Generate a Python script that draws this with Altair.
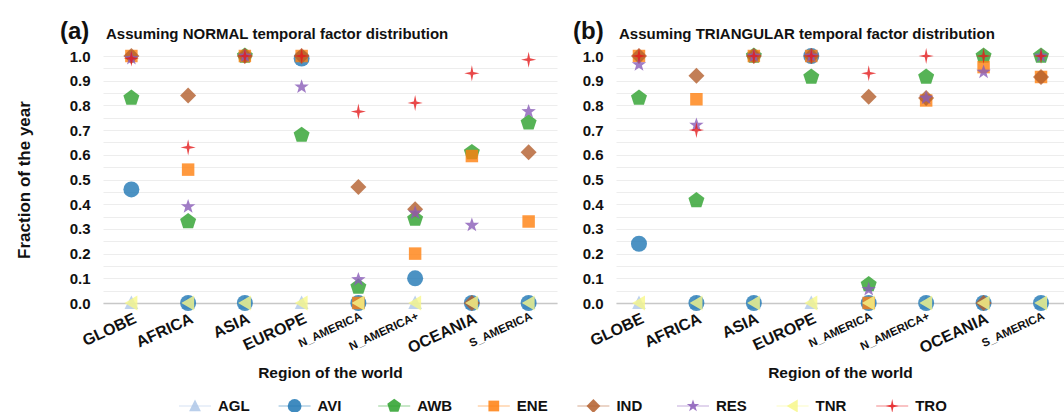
import altair as alt
import pandas as pd

regions = ["GLOBE", "AFRICA", "ASIA", "EUROPE", "N_AMERICA", "N_AMERICA+", "OCEANIA", "S_AMERICA"]
series = ["AGL", "AVI", "AWB", "ENE", "IND", "RES", "TNR", "TRO"]

# (a) NORMAL temporal factor distribution
normal_AGL = [0, 0, 0, 0, 0, 0, 0, 0]
normal_AVI = [0.46, 0, 0, 0.99, 0, 0.10, 0, 0]
normal_AWB = [0.83, 0.33, 1.0, 0.68, 0.065, 0.34, 0.61, 0.73]
normal_ENE = [1.0, 0.54, 1.0, 1.0, 0, 0.20, 0.595, 0.33]
normal_IND = [1.0, 0.84, 1.0, 1.0, 0.47, 0.38, 0, 0.61]
normal_RES = [0.99, 0.39, 1.0, 0.875, 0.095, 0.365, 0.315, 0.775]
normal_TNR = [0, 0, 0, 0, 0, 0, 0, 0]
normal_TRO = [0.99, 0.63, 1.0, 1.0, 0.775, 0.81, 0.93, 0.985]

# (b) TRIANGULAR temporal factor distribution
tri_AGL = [0, 0, 0, 0, 0, 0, 0, 0]
tri_AVI = [0.24, 0, 0, 1.0, 0, 0, 0, 0]
tri_AWB = [0.83, 0.415, 1.0, 0.915, 0.075, 0.915, 1.0, 1.0]
tri_ENE = [1.0, 0.825, 1.0, 1.0, 0, 0.82, 0.955, 0.915]
tri_IND = [1.0, 0.92, 1.0, 1.0, 0.835, 0.83, 0, 0.915]
tri_RES = [0.965, 0.72, 1.0, 1.0, 0.055, 0.83, 0.935, 1.0]
tri_TNR = [0, 0, 0, 0, 0, 0, 0, 0]
tri_TRO = [1.0, 0.70, 1.0, 1.0, 0.93, 1.0, 1.0, 1.0]

normal = [normal_AGL, normal_AVI, normal_AWB, normal_ENE, normal_IND, normal_RES, normal_TNR, normal_TRO]
tri = [tri_AGL, tri_AVI, tri_AWB, tri_ENE, tri_IND, tri_RES, tri_TNR, tri_TRO]

colors = ["#aec7e8", "#1f77b4", "#2ca02c", "#ff7f0e", "#b35e2c", "#8a5cb8", "#f7f78a", "#e41a1c"]
shapes = [
    "M0,-0.95L0.85,0.75L-0.85,0.75Z",                      # triangle up
    "circle",
    "M0,-1.05L1,-0.32L0.62,0.85L-0.62,0.85L-1,-0.32Z",     # pentagon
    "M-0.78,-0.78L0.78,-0.78L0.78,0.78L-0.78,0.78Z",       # square
    "diamond",
    "M0,-0.95L0.223,-0.307L0.904,-0.294L0.361,0.117L0.558,0.769L0,0.38L-0.558,0.769L-0.361,0.117L-0.904,-0.294L-0.223,-0.307Z",
    "M-0.85,0L0.75,-0.95L0.75,0.95Z",                      # triangle left
    "M0,-1L0.17,-0.17L0.95,0L0.17,0.17L0,1L-0.17,0.17L-0.95,0L-0.17,-0.17Z",  # 4-point star
]

FONT = "Liberation Sans"
TXT = "#111111"


def frame(values):
    rows = []
    for s, vals in zip(series, values):
        for r, v in zip(regions, vals):
            rows.append({"series": s, "region": r, "value": v})
    return pd.DataFrame(rows)


color_enc = alt.Color("series:N", scale=alt.Scale(domain=series, range=colors), legend=None)
shape_enc = alt.Shape("series:N", scale=alt.Scale(domain=series, range=shapes), legend=None)

grid_vals = [round(i * 0.05, 2) for i in range(21)]


def panel(values, letter, title, ytitle, width, pad):
    df = frame(values)
    yaxis_kw = dict(
        values=grid_vals,
        labelExpr="round(datum.value*20)%2==0 ? format(datum.value,'.1f') : ''",
        grid=True, gridColor="#ededed", gridWidth=1,
        domain=False, ticks=False, tickSize=0,
        labelFontWeight="bold", labelFontSize=15, labelColor=TXT,
        labelPadding=13, labelOverlap=False,
    )
    if ytitle:
        yaxis_kw.update(title=ytitle, titleFontSize=17, titleFontWeight="bold",
                        titleColor=TXT, titlePadding=36)
    else:
        yaxis_kw.update(title="")
    pts = alt.Chart(df).mark_point(filled=True, opacity=0.8, size=256, strokeWidth=0).encode(
        x=alt.X("region:N", sort=regions,
                scale=alt.Scale(type="point", padding=pad),
                axis=alt.Axis(title="Region of the world", labelAngle=-25,
                              labelAlign="right", labelBaseline="top",
                              labelFontWeight="bold", labelColor=TXT,
                              labelFontSize={"condition": {"test": "length(datum.label) > 8", "value": 11.5}, "value": 16},
                              labelPadding=7, ticks=False, tickSize=0,
                              domainColor="#c8c8c8", domainWidth=1.5, grid=False,
                              titleFontSize=15.5, titleFontWeight="bold", titleColor=TXT,
                              titlePadding=10, labelOverlap=False)),
        y=alt.Y("value:Q", scale=alt.Scale(domain=[0, 1], nice=False), axis=alt.Axis(**yaxis_kw)),
        color=color_enc,
        shape=shape_enc,
    )
    lab = alt.Chart(pd.DataFrame({"t": [letter]})).mark_text(
        align="left", baseline="alphabetic", fontSize=24, fontWeight="bold", color=TXT, font=FONT
    ).encode(text="t:N", x=alt.value(-43), y=alt.value(-17))
    ttl = alt.Chart(pd.DataFrame({"t": [title]})).mark_text(
        align="left", baseline="alphabetic", fontSize=15, fontWeight="bold", color=TXT, font=FONT
    ).encode(text="t:N", x=alt.value(3), y=alt.value(-17))
    return alt.layer(pts, lab, ttl).properties(width=width, height=247)


left = panel(normal, "(a)", "Assuming NORMAL temporal factor distribution", "Fraction of the year", 454, 0.5)
right = panel(tri, "(b)", "Assuming TRIANGULAR temporal factor distribution", None, 448, 0.4)

top = alt.hconcat(left, right, spacing=16)

# manual legend row (its plot area is aligned with the left panel's plot area)
leg_df = pd.DataFrame({"series": series, "idx": list(range(len(series)))})
LEG_W = 900
LEG_STEP = 99.6
LEG_START = 92.0
x0 = -LEG_START / LEG_STEP
x1 = x0 + LEG_W / LEG_STEP
legx = alt.X("idx:Q", scale=alt.Scale(domain=[x0, x1], nice=False, zero=False), axis=None)
leg_rules = alt.Chart(leg_df).mark_rule(xOffset=-16, x2Offset=16, strokeWidth=1.5, opacity=0.35).encode(
    x=legx, x2="idx:Q", y=alt.value(6), color=color_enc)
leg_pts = alt.Chart(leg_df).mark_point(filled=True, opacity=0.85, size=190, strokeWidth=0).encode(
    x=legx, y=alt.value(6), color=color_enc, shape=shape_enc)
leg_txt = alt.Chart(leg_df).mark_text(align="left", baseline="middle", dx=23, fontSize=15,
                                      fontWeight="bold", color=TXT, font=FONT).encode(
    x=legx, y=alt.value(6), text="series:N")
legend = alt.layer(leg_rules, leg_pts, leg_txt).properties(width=LEG_W, height=12)

chart = alt.vconcat(top, legend, spacing=16).properties(
    padding={"left": 15, "top": 20, "right": 0, "bottom": 0}
).configure(font=FONT).configure_view(strokeWidth=0)

chart.save("out.html", embed_options={"renderer": "svg", "actions": False})
